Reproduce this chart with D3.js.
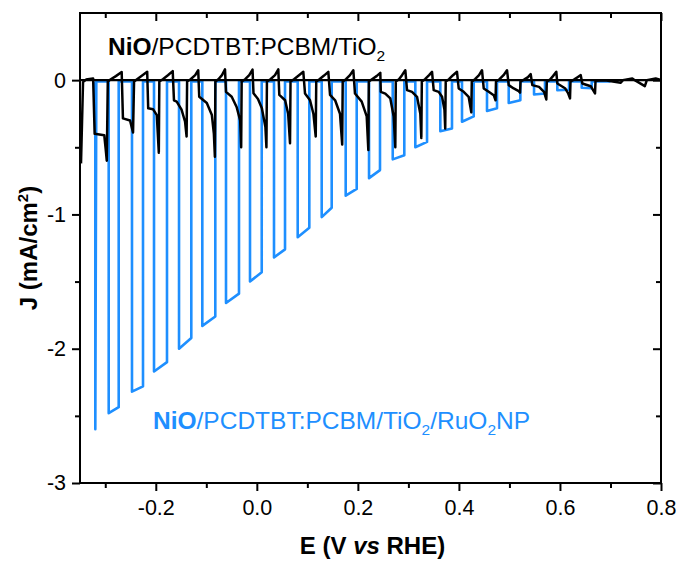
<!DOCTYPE html>
<html><head><meta charset="utf-8">
<script src="https://cdn.jsdelivr.net/npm/d3@7"></script>
<style>body{margin:0;background:#fff} text{font-family:"Liberation Sans",Arial,sans-serif}</style>
</head><body><svg id="c" width="679" height="561"></svg>
<script>
// ---- data ----
const xTicksMajor = [-0.2, 0, 0.2, 0.4, 0.6, 0.8];
const xTicksMinor = [-0.3, -0.1, 0.1, 0.3, 0.5, 0.7];
const yTicksMajor = [0, -1, -2, -3];
const yTicksMinor = [-0.5, -1.5, -2.5];

// blue (with RuO2 NP): chopped light, on/off potentials and currents
const blueFirstSpike = [-0.3197, -2.60];
const blueOnE  = [-0.2932,-0.2471,-0.2035,-0.1540,-0.1079,-0.0610,-0.0135,0.0340,0.0809,0.1284,0.1759,0.2221,0.2690,0.3137,0.3632,0.4061,0.4556,0.4986,0.5487,0.5948,0.6431];
const blueOffE = [-0.2734,-0.2253,-0.1778,-0.1297,-0.0822,-0.0353,0.0097,0.0558,0.1039,0.1482,0.1977,0.2438,0.2919,0.3369,0.3863,0.4293,0.4754,0.5216,0.5704,0.6180,0.6629];
const blueOnJ  = [-2.48,-2.32,-2.17,-2.00,-1.83,-1.66,-1.50,-1.32,-1.17,-1.02,-0.86,-0.73,-0.59,-0.50,-0.38,-0.31,-0.23,-0.17,-0.107,-0.075,-0.057];
const blueOffJ = [-2.435,-2.28,-2.10,-1.92,-1.76,-1.59,-1.43,-1.26,-1.10,-0.95,-0.81,-0.67,-0.56,-0.46,-0.36,-0.27,-0.21,-0.15,-0.10,-0.072,-0.06];
const blueDarkJ = -0.01;
const blueRange = [-0.3197, 0.70];

// black (without RuO2): zero dark line and chopped curve
const blackDark = [[-0.35, 0], [0.8, 0]];
const blackCurve = [
[-0.348,-0.62],[-0.344,-0.015],[-0.338,0.004],[-0.324,0.013],
[-0.321,-0.40],[-0.302,-0.41],[-0.299,-0.52],[-0.297,-0.60],[-0.295,-0.01],
[-0.289,0.007],[-0.279,0.03],[-0.2675,0.06],
[-0.265,-0.285],[-0.251,-0.30],[-0.245,-0.39],[-0.243,-0.01],
[-0.237,0.007],[-0.227,0.034],[-0.217,0.062],
[-0.215,-0.21],[-0.2055,-0.216],[-0.198,-0.26],[-0.194,-0.54],[-0.193,-0.01],
[-0.186,0.007],[-0.176,0.037],[-0.1665,0.067],
[-0.164,-0.15],[-0.1586,-0.16],[-0.149,-0.22],[-0.142,-0.31],[-0.139,-0.42],[-0.138,-0.01],
[-0.131,0.007],[-0.122,0.037],[-0.116,0.074],
[-0.114,-0.124],[-0.099,-0.17],[-0.089,-0.26],[-0.085,-0.40],[-0.083,-0.57],[-0.082,-0.01],
[-0.076,0.007],[-0.069,0.037],[-0.063,0.08],
[-0.061,-0.087],[-0.0497,-0.124],[-0.040,-0.20],[-0.033,-0.30],[-0.031,-0.50],[-0.030,-0.01],
[-0.023,0.007],[-0.015,0.037],[-0.0085,0.078],
[-0.0066,-0.097],[0.0023,-0.14],[0.010,-0.21],[0.017,-0.35],[0.019,-0.50],[0.020,-0.01],
[0.027,0.007],[0.036,0.037],[0.0425,0.08],
[0.0445,-0.11],[0.056,-0.15],[0.062,-0.25],[0.0657,-0.47],[0.0667,-0.01],
[0.0736,0.007],[0.0835,0.037],[0.092,0.062],
[0.0954,-0.10],[0.1053,-0.15],[0.112,-0.25],[0.1166,-0.42],[0.1176,-0.01],
[0.124,0.007],[0.133,0.034],[0.1415,0.062],
[0.1449,-0.11],[0.155,-0.15],[0.1646,-0.25],[0.169,-0.48],[0.170,-0.01],
[0.1765,0.007],[0.1844,0.037],[0.191,0.074],
[0.1943,-0.10],[0.2076,-0.16],[0.2175,-0.27],[0.2207,-0.52],[0.2217,-0.01],
[0.228,0.007],[0.237,0.03],[0.2444,0.054],
[0.2454,-0.087],[0.2543,-0.10],[0.2642,-0.136],[0.2709,-0.27],[0.2741,-0.50],[0.2751,-0.01],
[0.2814,0.007],[0.2874,0.037],[0.2939,0.074],
[0.2973,-0.074],[0.3072,-0.087],[0.3171,-0.124],[0.3236,-0.25],[0.3256,-0.43],[0.3266,-0.01],
[0.333,0.007],[0.341,0.037],[0.3468,0.062],
[0.3501,-0.074],[0.36,-0.087],[0.3666,-0.124],[0.3714,-0.22],[0.3729,-0.36],[0.3739,-0.01],
[0.3804,0.007],[0.3883,0.037],[0.3962,0.062],
[0.3996,-0.062],[0.4095,-0.087],[0.4193,-0.124],[0.4245,-0.24],[0.4255,-0.01],
[0.4319,0.007],[0.4398,0.037],[0.4457,0.074],
[0.4491,-0.062],[0.459,-0.087],[0.4689,-0.112],[0.4725,-0.15],[0.4734,-0.01],
[0.4804,0.007],[0.4883,0.037],[0.4952,0.074],
[0.4986,-0.037],[0.5085,-0.062],[0.5184,-0.082],[0.521,-0.093],[0.522,-0.01],
[0.5289,0.004],[0.5368,0.022],[0.5421,0.045],
[0.5453,-0.037],[0.5586,-0.05],[0.5685,-0.087],[0.573,-0.144],[0.574,-0.01],
[0.5803,0.004],[0.5862,0.03],[0.5928,0.062],
[0.5948,-0.025],[0.61,-0.06],[0.616,-0.097],[0.6199,-0.136],[0.6209,-0.01],
[0.6278,0.004],[0.6348,0.022],[0.6411,0.037],
[0.6443,-0.025],[0.6609,-0.045],[0.6694,-0.099],[0.6704,-0.004],
[0.689,0],[0.7203,-0.02],[0.7245,0],[0.7432,0.013],[0.748,0],[0.768,-0.045],[0.772,0],[0.7895,0.013],[0.8,0]
];

// ---- layout ----
const W = 679, H = 561;
const m = {left: 80, right: 18, top: 13, bottom: 78};
const BLUE = "#1e8fff";
const svg = d3.select("#c");
const x = d3.scaleLinear().domain([-0.35, 0.8]).range([m.left, W - m.right]);
const y = d3.scaleLinear().domain([-3, 0.5]).range([H - m.bottom, m.top]);

svg.append("defs").append("clipPath").attr("id", "clip")
  .append("rect").attr("x", m.left).attr("y", m.top)
  .attr("width", W - m.left - m.right).attr("height", H - m.top - m.bottom);

// build blue path points
const bluePts = [];
bluePts.push([blueFirstSpike[0], blueDarkJ]);
bluePts.push(blueFirstSpike);
bluePts.push([blueFirstSpike[0] + 0.002, blueDarkJ]);
blueOnE.forEach((e, i) => {
  bluePts.push([e, blueDarkJ]);
  bluePts.push([e, blueOnJ[i]]);
  bluePts.push([blueOffE[i], blueOffJ[i]]);
  bluePts.push([blueOffE[i], blueDarkJ]);
});
bluePts.push([blueRange[1], blueDarkJ]);

const line = d3.line().x(d => x(d[0])).y(d => y(d[1]));
const g = svg.append("g").attr("clip-path", "url(#clip)");
g.append("path").attr("d", line(bluePts)).attr("fill", "none")
  .attr("stroke", BLUE).attr("stroke-width", 2.6).attr("stroke-linejoin", "round");
g.append("path").attr("d", line(blackDark)).attr("fill", "none")
  .attr("stroke", "#000").attr("stroke-width", 2.2);
g.append("path").attr("d", line(blackCurve)).attr("fill", "none")
  .attr("stroke", "#000").attr("stroke-width", 2.5).attr("stroke-linejoin", "round");

// ---- axes ----
const fs = 21.5;
function styleAxis(sel) {
  sel.select(".domain").remove();
  sel.selectAll("line").attr("stroke", "#000").attr("stroke-width", 2);
  sel.selectAll("text").attr("font-size", fs).attr("fill", "#000")
    .attr("font-family", "'Liberation Sans', Arial, sans-serif");
}
const fmtX = d => d.toFixed(1);
const fmtY = d => String(d);
// bottom
svg.append("g").attr("transform", `translate(0,${y(-3)})`)
  .call(d3.axisBottom(x).tickValues(xTicksMajor).tickSize(8).tickPadding(9).tickFormat(fmtX)).call(styleAxis);
svg.append("g").attr("transform", `translate(0,${y(-3)})`)
  .call(d3.axisBottom(x).tickValues(xTicksMinor).tickSize(5).tickFormat("")).call(styleAxis);
// top (ticks pointing in)
svg.append("g").attr("transform", `translate(0,${y(0.5)})`)
  .call(d3.axisBottom(x).tickValues(xTicksMajor).tickSize(8).tickFormat("")).call(styleAxis);
svg.append("g").attr("transform", `translate(0,${y(0.5)})`)
  .call(d3.axisBottom(x).tickValues(xTicksMinor).tickSize(5).tickFormat("")).call(styleAxis);
// left
svg.append("g").attr("transform", `translate(${x(-0.35)},0)`)
  .call(d3.axisLeft(y).tickValues(yTicksMajor).tickSize(8).tickPadding(6).tickFormat(fmtY)).call(styleAxis);
svg.append("g").attr("transform", `translate(${x(-0.35)},0)`)
  .call(d3.axisLeft(y).tickValues(yTicksMinor).tickSize(5).tickFormat("")).call(styleAxis);
// right (ticks pointing in)
svg.append("g").attr("transform", `translate(${x(0.8)},0)`)
  .call(d3.axisLeft(y).tickValues(yTicksMajor).tickSize(8).tickFormat("")).call(styleAxis);
svg.append("g").attr("transform", `translate(${x(0.8)},0)`)
  .call(d3.axisLeft(y).tickValues(yTicksMinor).tickSize(5).tickFormat("")).call(styleAxis);

// frame
svg.append("rect").attr("x", x(-0.35)).attr("y", y(0.5))
  .attr("width", x(0.8) - x(-0.35)).attr("height", y(-3) - y(0.5))
  .attr("fill", "none").attr("stroke", "#000").attr("stroke-width", 2);

// ---- titles ----
const xt = svg.append("text").attr("x", (x(-0.35) + x(0.8)) / 2 + 2).attr("y", 554)
  .attr("text-anchor", "middle").attr("font-size", 24).attr("font-weight", "bold");
xt.append("tspan").text("E (V ");
xt.append("tspan").attr("font-style", "italic").text("vs");
xt.append("tspan").text(" RHE)");

const yt = svg.append("text").attr("transform", `translate(37,${(y(0.5) + y(-3)) / 2}) rotate(-90)`)
  .attr("text-anchor", "middle").attr("font-size", 24).attr("font-weight", "bold");
yt.append("tspan").text("J (mA/cm");
yt.append("tspan").attr("font-size", 15).attr("dy", -9).text("2");
yt.append("tspan").attr("dy", 9).text(")");

// ---- annotations ----
const a1 = svg.append("text").attr("x", 108).attr("y", 55).attr("font-size", 24.5).attr("fill", "#000");
a1.append("tspan").attr("font-weight", "bold").text("NiO");
a1.append("tspan").text("/PCDTBT:PCBM/TiO");
a1.append("tspan").attr("font-size", 15.5).attr("dy", 6).text("2");

const a2 = svg.append("text").attr("x", 153).attr("y", 429).attr("font-size", 24.5).attr("fill", BLUE);
a2.append("tspan").attr("font-weight", "bold").text("NiO");
a2.append("tspan").text("/PCDTBT:PCBM/TiO");
a2.append("tspan").attr("font-size", 15.5).attr("dy", 6).text("2");
a2.append("tspan").attr("dy", -6).text("/RuO");
a2.append("tspan").attr("font-size", 15.5).attr("dy", 6).text("2");
a2.append("tspan").attr("dy", -6).text("NP");
</script></body></html>
